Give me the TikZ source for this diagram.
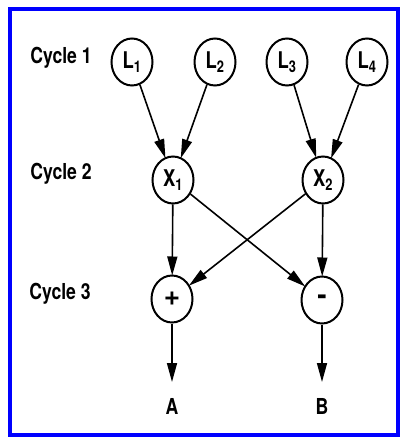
\documentclass[tikz,border=0pt]{standalone}
\usepackage{fontspec}
\setmainfont{TeX Gyre Heros}
\usetikzlibrary{shapes.geometric,arrows.meta}
\tikzset{
  cyc/.style={ellipse, draw, line width=2pt, minimum width=41pt, minimum height=47pt, inner sep=0pt, font=\fontsize{23}{24}\selectfont\bfseries},
  arr/.style={line width=1.6pt, -{Triangle[length=19pt,width=10pt]}, shorten >=-1pt},
  lab/.style={font=\fontsize{22}{24}\selectfont\bfseries}
}
\newcommand{\nar}[1]{\scalebox{0.8}[1]{#1}}
\begin{document}
\begin{tikzpicture}[x=1pt,y=-1pt]
\useasboundingbox (0,0) rectangle (407,443);
\draw[blue, line width=3.5pt] (10,9) rectangle (398,435);
\node[lab] (c1) at (61,58) {\nar{Cycle 1}};
\node[lab] (c2) at (61,174) {\nar{Cycle 2}};
\node[lab] (c3) at (60,294) {\nar{Cycle 3}};
\node[cyc] (L1) at (132,62) {\nar{L$_{\mathbf 1}$}};
\node[cyc] (L2) at (215,62) {\nar{L$_{\mathbf 2}$}};
\node[cyc] (L3) at (287,62) {\nar{L$_{\mathbf 3}$}};
\node[cyc] (L4) at (367,62) {\nar{L$_{\mathbf 4}$}};
\node[cyc] (X1) at (173,180) {\nar{X$_{\mathbf 1}$}};
\node[cyc] (X2) at (323,180) {\nar{X$_{\mathbf 2}$}};
\node[cyc] (P) at (172,299) {\fontsize{28}{28}\selectfont +};
\node[cyc] (M) at (322,300) {\fontsize{28}{28}\selectfont -};
\coordinate (a) at (172,382);
\coordinate (b) at (322,382);
\node[lab] (A) at (172,406) {\nar{A}};
\node[lab] (B) at (322,406) {\nar{B}};
\draw[arr] (L1) -- (X1);
\draw[arr] (L2) -- (X1);
\draw[arr] (L3) -- (X2);
\draw[arr] (L4) -- (X2);
\draw[arr] (X1) -- (P);
\draw[arr] (X2) -- (M);
\draw[arr] (X1) -- (M);
\draw[arr] (X2) -- (P);
\draw[arr, shorten >=0pt] (P) -- (a);
\draw[arr, shorten >=0pt] (M) -- (b);
\end{tikzpicture}
\end{document}
